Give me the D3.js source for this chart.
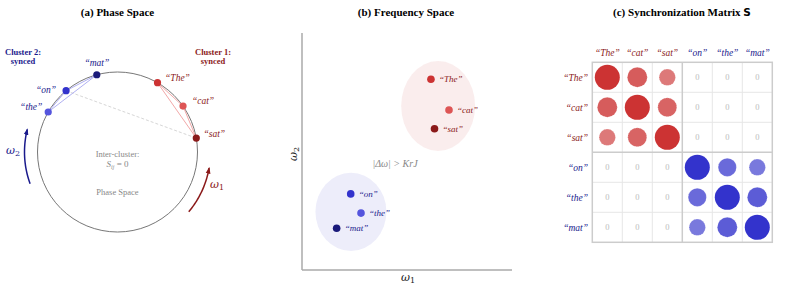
<!DOCTYPE html>
<html>
<head>
<meta charset="utf-8">
<script src="https://cdn.jsdelivr.net/npm/d3@7"></script>
<style>
  body { margin: 0; background: #fff; }
  svg text { font-family: "Liberation Serif", "Times New Roman", serif; }
  .title { font-weight: bold; font-size: 11px; text-anchor: middle; }
  .word { font-style: italic; font-size: 9.5px; }
  svg text.math { font-family: "DejaVu Serif", serif; }
</style>
</head>
<body>
<script>
// ---- data ----
var words = ["The", "cat", "sat", "on", "the", "mat"];
var cluster = [1, 1, 1, 2, 2, 2];
var phaseDeg = [60, 35, 10, 130, 150, 105];
var freqX = [0.614, 0.70, 0.631, 0.232, 0.281, 0.165];
var freqY = [0.805, 0.675, 0.596, 0.321, 0.240, 0.176];
var syncMatrix = [
  [1.0, 0.80, 0.66, 0, 0, 0],
  [0.80, 1.0, 0.76, 0, 0, 0],
  [0.66, 0.76, 1.0, 0, 0, 0],
  [0, 0, 0, 1.0, 0.73, 0.66],
  [0, 0, 0, 0.73, 1.0, 0.80],
  [0, 0, 0, 0.66, 0.80, 1.0]
];

var pointColor = ["#cc3333", "#dd5555", "#8b1a1a", "#3333cc", "#5555dd", "#1a1a7a"];
var darkRed = "#8b1a1a", darkBlue = "#1a1a8c";
var W = 793, H = 289;

var svg = d3.select("body").append("svg").attr("width", W).attr("height", H);

function q(w) { return "\u201c" + w + "\u201d"; }

function omega(g, x, y, sub, color, rot) {
  var t = g.append("text").attr("class", "math").attr("fill", color)
    .attr("font-style", "italic").attr("font-size", 11);
  if (rot) t.attr("transform", "translate(" + x + "," + y + ") rotate(-90)");
  else t.attr("x", x).attr("y", y);
  t.append("tspan").text("\u03c9");
  t.append("tspan").attr("font-style", "normal").attr("font-size", 8).attr("dy", 2).text(sub);
  return t;
}

// ============================================================
// (a) Phase Space
// ============================================================
(function () {
  var cx = 117.5, cy = 152, R = 80;
  var g = svg.append("g");
  g.append("text").attr("class", "title").attr("x", cx).attr("y", 16).text("(a) Phase Space");

  g.append("circle").attr("cx", cx).attr("cy", cy).attr("r", R)
    .attr("fill", "none").attr("stroke", "#777").attr("stroke-width", 1);

  function pos(deg, r) {
    var a = deg * Math.PI / 180;
    return [cx + r * Math.cos(a), cy - r * Math.sin(a)];
  }
  var pts = phaseDeg.map(function (d) { return pos(d, R); });

  // inter-cluster dashed
  g.append("line").attr("x1", pts[3][0]).attr("y1", pts[3][1])
    .attr("x2", pts[2][0]).attr("y2", pts[2][1])
    .attr("stroke", "#ccc").attr("stroke-width", 0.8).attr("stroke-dasharray", "3,2");

  // intra-cluster links
  for (var i = 0; i < 6; i++) {
    for (var j = i + 1; j < 6; j++) {
      if (cluster[i] !== cluster[j]) continue;
      g.append("line").attr("x1", pts[i][0]).attr("y1", pts[i][1])
        .attr("x2", pts[j][0]).attr("y2", pts[j][1])
        .attr("stroke", cluster[i] === 1 ? "#f2a8a8" : "#b0b0f2")
        .attr("stroke-width", 1);
    }
  }

  g.selectAll("circle.pt").data(words).enter().append("circle")
    .attr("class", "pt")
    .attr("cx", function (d, i) { return pts[i][0]; })
    .attr("cy", function (d, i) { return pts[i][1]; })
    .attr("r", 3.6)
    .attr("fill", function (d, i) { return pointColor[i]; });

  var off = { The: [20, -5], cat: [20, -5], sat: [18, -4], on: [-20, -1], the: [-17, -5], mat: [0, -12] };
  g.selectAll("text.word").data(words).enter().append("text")
    .attr("class", "word")
    .attr("text-anchor", "middle")
    .attr("dy", "0.35em")
    .attr("x", function (d, i) { return pts[i][0] + off[d][0]; })
    .attr("y", function (d, i) { return pts[i][1] + off[d][1]; })
    .attr("fill", function (d, i) { return cluster[i] === 1 ? darkRed : darkBlue; })
    .text(q);

  // cluster labels
  [["Cluster 2:", "synced", 23, darkBlue], ["Cluster 1:", "synced", 213, darkRed]].forEach(function (c) {
    var t = g.append("text").attr("text-anchor", "middle").attr("font-weight", "bold")
      .attr("font-size", 8.5).attr("fill", c[3]);
    t.append("tspan").attr("x", c[2]).attr("y", 55).text(c[0]);
    t.append("tspan").attr("x", c[2]).attr("y", 64).text(c[1]);
  });

  // rotation arrows
  var defs = svg.append("defs");
  [["arrB", darkBlue], ["arrR", darkRed]].forEach(function (a) {
    defs.append("marker").attr("id", a[0]).attr("viewBox", "0 0 10 10")
      .attr("refX", 8).attr("refY", 5).attr("markerWidth", 4.5).attr("markerHeight", 4.5)
      .attr("orient", "auto")
      .append("path").attr("d", "M0,1.5 L10,5 L0,8.5 Z").attr("fill", a[1]);
  });
  function arc(from, to) {
    var n = 30, d = "";
    for (var k = 0; k <= n; k++) {
      var p = pos(from + (to - from) * k / n, 93);
      d += (k ? "L" : "M") + p[0] + "," + p[1];
    }
    return d;
  }
  g.append("path").attr("d", arc(200, 166)).attr("fill", "none")
    .attr("stroke", darkBlue).attr("stroke-width", 1.5).attr("marker-end", "url(#arrB)");
  g.append("path").attr("d", arc(-40, -10)).attr("fill", "none")
    .attr("stroke", darkRed).attr("stroke-width", 1.5).attr("marker-end", "url(#arrR)");

  omega(g, 6, 154, "2", darkBlue);
  omega(g, 210, 188, "1", darkRed);

  // centre notes
  g.append("text").attr("x", cx).attr("y", 157).attr("text-anchor", "middle")
    .attr("font-size", 8.5).attr("fill", "#888").text("Inter-cluster:");
  var s = g.append("text").attr("x", cx).attr("y", 167).attr("text-anchor", "middle")
    .attr("font-size", 9).attr("fill", "#888");
  s.append("tspan").attr("font-style", "italic").text("S");
  s.append("tspan").attr("font-style", "italic").attr("font-size", 6).attr("dy", 2).text("ij");
  s.append("tspan").attr("dy", -2).text(" = 0");
  g.append("text").attr("x", cx).attr("y", 195).attr("text-anchor", "middle")
    .attr("font-size", 8.5).attr("fill", "#888").text("Phase Space");
})();

// ============================================================
// (b) Frequency Space
// ============================================================
(function () {
  var g = svg.append("g");
  g.append("text").attr("class", "title").attr("x", 406).attr("y", 16).text("(b) Frequency Space");

  var x = d3.scaleLinear().domain([0, 1]).range([302, 512]);
  var y = d3.scaleLinear().domain([0, 1]).range([270, 33]);

  // cluster regions
  [[1, "#cc3333"], [2, "#3333cc"]].forEach(function (c) {
    var idx = d3.range(6).filter(function (i) { return cluster[i] === c[0]; });
    var mx = d3.mean(idx, function (i) { return freqX[i]; });
    var my = d3.mean(idx, function (i) { return freqY[i]; });
    var rx = c[0] === 1 ? 0.176 : 0.169, ry = c[0] === 1 ? 0.19 : 0.165;
    var ox = c[0] === 1 ? 0.0 : 0.007;
    g.append("ellipse")
      .attr("cx", x(mx + ox)).attr("cy", y(my))
      .attr("rx", x(rx) - x(0)).attr("ry", y(0) - y(ry))
      .attr("fill", c[1]).attr("fill-opacity", 0.09);
  });

  g.append("line").attr("x1", x(0)).attr("x2", x(0)).attr("y1", y(1)).attr("y2", y(0))
    .attr("stroke", "#aaa").attr("stroke-width", 1.5);
  g.append("line").attr("x1", x(0)).attr("x2", x(1)).attr("y1", y(0)).attr("y2", y(0))
    .attr("stroke", "#aaa").attr("stroke-width", 1.5);

  g.selectAll("circle.fp").data(words).enter().append("circle")
    .attr("class", "fp")
    .attr("cx", function (d, i) { return x(freqX[i]); })
    .attr("cy", function (d, i) { return y(freqY[i]); })
    .attr("r", 3.8)
    .attr("fill", function (d, i) { return pointColor[i]; });

  g.selectAll("text.word").data(words).enter().append("text")
    .attr("class", "word")
    .attr("dy", "0.35em")
    .attr("x", function (d, i) { return x(freqX[i]) + 8; })
    .attr("y", function (d, i) { return y(freqY[i]); })
    .attr("fill", function (d, i) { return cluster[i] === 1 ? darkRed : darkBlue; })
    .style("font-size", "9px")
    .text(q);

  g.append("text").attr("x", 395).attr("y", 167).attr("text-anchor", "middle")
    .attr("font-size", 10).attr("font-style", "italic").attr("fill", "#888")
    .text("|\u0394\u03c9| > KrJ");

  omega(g, 401, 281, "1", "#222");
  omega(g, 297, 161, "2", "#222", true);
})();

// ============================================================
// (c) Synchronization Matrix
// ============================================================
(function () {
  var g = svg.append("g");
  var t = g.append("text").attr("class", "title").attr("x", 682).attr("y", 16);
  t.append("tspan").text("(c) Synchronization Matrix ");
  t.append("tspan").style("font-family", "DejaVu Sans").attr("font-size", 10.5).text("S");

  var band = d3.scaleBand().domain(d3.range(6)).range([592.3, 772.3]);
  var bandY = d3.scaleBand().domain(d3.range(6)).range([62.3, 242.3]);
  var rScale = d3.scaleLinear().domain([0, 1]).range([0, 12.5]);
  var bw = band.bandwidth();

  // inner grid
  for (var k = 1; k < 6; k++) {
    if (k === 3) continue;
    g.append("line").attr("x1", band(k)).attr("x2", band(k)).attr("y1", bandY(0)).attr("y2", bandY(5) + bw)
      .attr("stroke", "#e6e6e6").attr("stroke-width", 1);
    g.append("line").attr("y1", bandY(k)).attr("y2", bandY(k)).attr("x1", band(0)).attr("x2", band(5) + bw)
      .attr("stroke", "#e6e6e6").attr("stroke-width", 1);
  }
  g.append("line").attr("x1", band(3)).attr("x2", band(3)).attr("y1", bandY(0)).attr("y2", bandY(5) + bw)
    .attr("stroke", "#ccc").attr("stroke-width", 1.5);
  g.append("line").attr("y1", bandY(3)).attr("y2", bandY(3)).attr("x1", band(0)).attr("x2", band(5) + bw)
    .attr("stroke", "#ccc").attr("stroke-width", 1.5);
  g.append("rect").attr("x", band(0)).attr("y", bandY(0)).attr("width", 6 * bw).attr("height", 6 * bw)
    .attr("fill", "none").attr("stroke", "#ccc").attr("stroke-width", 1.5);

  var cells = [];
  syncMatrix.forEach(function (row, i) {
    row.forEach(function (v, j) { cells.push({ i: i, j: j, v: v }); });
  });

  g.selectAll("circle.cell").data(cells.filter(function (c) { return c.v > 0; })).enter()
    .append("circle").attr("class", "cell")
    .attr("cx", function (c) { return band(c.j) + bw / 2; })
    .attr("cy", function (c) { return bandY(c.i) + bw / 2; })
    .attr("r", function (c) { return rScale(c.v); })
    .attr("fill", function (c) { return cluster[c.i] === 1 ? "#cc3333" : "#3333cc"; })
    .attr("fill-opacity", function (c) { return c.v; })
    .attr("stroke", "#fff")
    .attr("stroke-opacity", function (c) { return c.v < 1 ? 0.5 : 0; })
    .attr("stroke-width", 0.8)
    .attr("stroke-dasharray", "1,1");

  g.selectAll("text.zero").data(cells.filter(function (c) { return c.v === 0; })).enter()
    .append("text").attr("class", "zero")
    .attr("x", function (c) { return band(c.j) + bw / 2; })
    .attr("y", function (c) { return bandY(c.i) + bw / 2; })
    .attr("dy", "0.35em").attr("text-anchor", "middle")
    .attr("font-size", 8.5).attr("fill", "#bbb")
    .text(function (c) { return c.v; });

  g.selectAll("text.col").data(words).enter().append("text")
    .attr("class", "word col").attr("text-anchor", "middle")
    .attr("x", function (d, i) { return band(i) + bw / 2; })
    .attr("y", 56)
    .attr("fill", function (d, i) { return cluster[i] === 1 ? darkRed : darkBlue; })
    .text(q);
  g.selectAll("text.row").data(words).enter().append("text")
    .attr("class", "word row").attr("text-anchor", "end")
    .attr("x", 588).attr("dy", "0.35em")
    .attr("y", function (d, i) { return bandY(i) + bw / 2; })
    .attr("fill", function (d, i) { return cluster[i] === 1 ? darkRed : darkBlue; })
    .text(q);
})();
</script>
</body>
</html>
